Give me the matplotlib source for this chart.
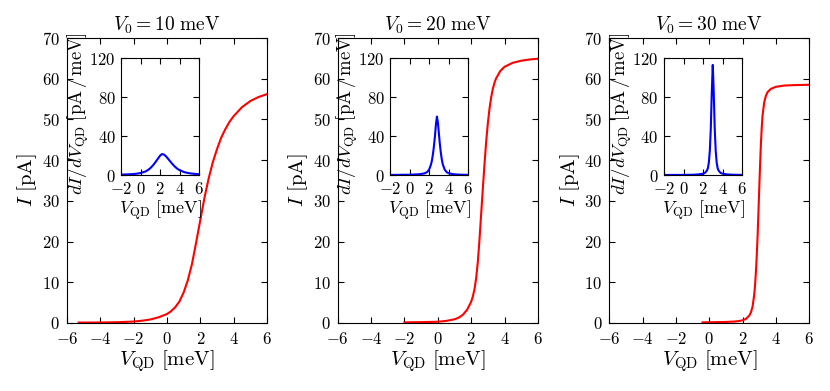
import numpy as np
import matplotlib
matplotlib.use("Agg")
from matplotlib import pyplot as plt

plt.rcParams["font.family"] = "serif"
plt.rcParams["font.serif"] = ["cmr10"]
plt.rcParams["mathtext.fontset"] = "cm"
plt.rcParams["axes.formatter.use_mathtext"] = True
plt.rcParams["xtick.direction"] = "in"
plt.rcParams["ytick.direction"] = "in"
plt.rcParams["xtick.top"] = True
plt.rcParams["ytick.right"] = True
plt.rcParams["xtick.major.size"] = 4
plt.rcParams["ytick.major.size"] = 4
plt.rcParams["xtick.major.pad"] = 6
plt.rcParams["ytick.major.pad"] = 5

titles = [r"$V_0 = 10\ \mathrm{meV}$", r"$V_0 = 20\ \mathrm{meV}$", r"$V_0 = 30\ \mathrm{meV}$"]

# current I [pA] vs V_QD [meV]
v1 = [-5.3, -5, -4, -3, -2, -1.5, -1, -0.5, 0, 0.25, 0.5, 0.75, 1, 1.25, 1.5, 1.75,
      2, 2.25, 2.5, 2.75, 3, 3.25, 3.5, 3.75, 4, 4.5, 5, 5.5, 6]
i1 = [0.1, 0.1, 0.12, 0.18, 0.35, 0.55, 0.85, 1.4, 2.2, 2.9, 3.9, 5.3, 7.5, 10.5, 14.5, 19.8,
      25.3, 30.8, 35.5, 39.5, 42.7, 45.5, 47.6, 49.4, 50.8, 53.0, 54.5, 55.5, 56.2]

v2 = [-2.0, -1, 0, 0.5, 1, 1.25, 1.5, 1.75, 2, 2.1, 2.2, 2.3, 2.4, 2.5, 2.6, 2.7, 2.8,
      2.9, 3.0, 3.1, 3.2, 3.3, 3.4, 3.5, 3.75, 4, 4.5, 5, 5.5, 6]
i2 = [0.15, 0.2, 0.3, 0.5, 0.9, 1.3, 2.0, 3.2, 5.2, 6.5, 8.3, 11.0, 15.0, 20.5, 26.8, 33.0, 39.0,
      44.5, 49.0, 52.6, 55.4, 57.5, 59.0, 60.1, 61.9, 62.9, 63.9, 64.4, 64.7, 64.9]

v3 = [-0.4, 0, 1, 1.5, 1.75, 2, 2.2, 2.4, 2.5, 2.6, 2.7, 2.75, 2.8, 2.85, 2.9, 2.95, 3.0,
      3.05, 3.1, 3.15, 3.2, 3.3, 3.4, 3.5, 3.7, 4, 4.5, 5, 6]
i3 = [0.15, 0.17, 0.25, 0.35, 0.45, 0.65, 1.0, 1.8, 2.6, 4.0, 7.0, 9.3, 12.5, 16.5, 21.2, 27, 33,
      38.8, 44, 48.0, 51.0, 54.2, 55.8, 56.7, 57.5, 58.0, 58.3, 58.4, 58.5]

# differential conductance dI/dV [pA/meV] for the insets
dv1 = [-2, -1, -0.5, 0, 0.5, 0.75, 1, 1.25, 1.5, 1.75, 2, 2.2, 2.4, 2.6, 2.8, 3, 3.25,
       3.5, 3.75, 4, 4.5, 5, 5.5, 6]
g1 = [0.4, 0.8, 1.2, 2.0, 3.6, 5.0, 7.0, 9.6, 12.8, 16.3, 19.8, 21.5, 21.0, 19.3, 17.0, 14.5, 11.5,
      8.8, 6.6, 5.0, 2.9, 1.8, 1.2, 0.8]

dv2 = [-2, 0, 1, 1.5, 1.8, 2, 2.2, 2.3, 2.4, 2.5, 2.6, 2.7, 2.8, 2.9, 3.0, 3.1, 3.2,
       3.3, 3.4, 3.6, 3.8, 4, 4.5, 5, 6]
g2 = [0.1, 0.3, 0.8, 1.6, 3.0, 5.5, 11, 15.5, 22, 30, 40, 52, 60, 54, 43, 32, 23,
      16, 11, 5.5, 3.0, 1.8, 0.8, 0.4, 0.15]

dv3 = [-2, 0, 1, 1.5, 2, 2.2, 2.4, 2.5, 2.6, 2.7, 2.8, 2.9, 3.0, 3.1, 3.2, 3.3, 3.4,
       3.5, 3.6, 3.8, 4, 4.5, 5, 6]
g3 = [0.05, 0.1, 0.3, 0.6, 1.3, 2.2, 4.5, 7, 13, 25, 48, 85, 113, 85, 48, 25, 13,
      7, 4.5, 2.2, 1.3, 0.6, 0.3, 0.1]

V = [v1, v2, v3]
I = [i1, i2, i3]
DV = [dv1, dv2, dv3]
G = [g1, g2, g3]

main_left = [0.0807, 0.407, 0.734]
inset_left = [0.1458, 0.470, 0.800]

fig = plt.figure(figsize=(8.3, 3.91), dpi=100)

for k in range(3):
    ax = fig.add_axes([main_left[k], 0.174, 0.241, 0.729])
    ax.plot(V[k], I[k], color="r", lw=1.5)
    ax.set_xlim(-6, 6)
    ax.set_ylim(0, 70)
    ax.set_xticks([-6, -4, -2, 0, 2, 4, 6])
    ax.set_yticks(range(0, 71, 10))
    ax.tick_params(labelsize=12)
    ax.set_xlabel(r"$V_{\mathrm{QD}}\ [\mathrm{meV}]$", fontsize=15, labelpad=1)
    ax.set_ylabel(r"$I\ [\mathrm{pA}]$", fontsize=15, labelpad=2)
    ax.set_title(titles[k], fontsize=14, pad=5)

    ins = fig.add_axes([inset_left[k], 0.5524, 0.094, 0.299])
    ins.plot(DV[k], G[k], color="b", lw=1.5)
    ins.set_xlim(-2, 6)
    ins.set_ylim(0, 120)
    ins.set_xticks([-2, 0, 2, 4, 6])
    ins.set_yticks([0, 40, 80, 120])
    ins.tick_params(labelsize=12, pad=4)
    ins.set_xlabel(r"$V_{\mathrm{QD}}\ [\mathrm{meV}]$", fontsize=13, labelpad=1)
    ins.set_ylabel(r"$dI/dV_{\mathrm{QD}}\ [\mathrm{pA}\,/\,\mathrm{meV}]$", fontsize=13.5)
    ins.yaxis.set_label_coords(-0.38, 0.52)

fig.savefig("out.png", dpi=100)
